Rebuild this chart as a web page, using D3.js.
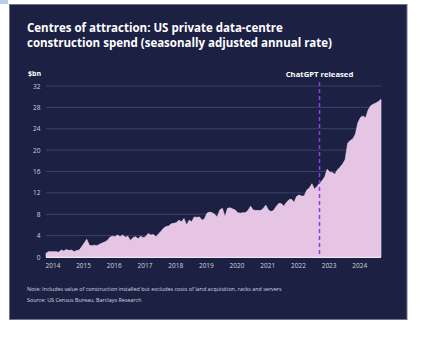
<!DOCTYPE html>
<html lang="en">
<head>
<meta charset="UTF-8">
<title>Centres of attraction</title>
<script src="https://cdn.jsdelivr.net/npm/d3@7"></script>
<style>
  body { margin: 0; background: #fff; }
  svg text { font-family: "Open Sans", Lato, sans-serif; }
</style>
</head>
<body>
<script>
    // monthly spend, $bn SAAR, Jan 2014 .. Dec 2024
    const spend = [
        0.7, 1.0, 1.0, 1.0, 1.0, 0.9, 1.3, 1.1, 1.4, 1.2, 1.3, 1.0,
        1.2, 1.3, 1.9, 2.6, 3.3, 2.2, 2.1, 2.2, 2.1, 2.4, 2.6, 2.8,
        3.1, 3.7, 3.9, 3.8, 4.1, 3.8, 4.1, 3.7, 3.9, 3.1, 3.6, 3.8,
        3.4, 3.9, 3.6, 3.8, 4.4, 4.1, 4.2, 3.8, 4.3, 4.8, 5.4, 5.7,
        5.8, 6.2, 6.3, 6.4, 6.9, 6.6, 7.2, 6.0, 6.9, 6.6, 7.5, 7.4,
        7.5, 6.9, 7.1, 8.2, 8.4, 8.3, 8.0, 7.5, 8.8, 9.1, 7.5, 9.1,
        9.2, 9.0, 8.8, 8.3, 8.2, 8.3, 8.3, 8.7, 9.5, 8.8, 8.7, 8.7,
        8.7, 9.1, 9.7, 8.8, 8.5, 8.7, 9.4, 10.0, 10.0, 9.5, 10.2, 10.7,
        10.8, 10.2, 11.3, 11.6, 11.4, 11.4, 12.5, 12.9, 13.7, 12.7, 13.2, 13.8,
        14.3, 15.0, 16.4, 15.9, 15.8, 15.5, 16.3, 16.8, 17.4, 18.2, 21.3, 21.8,
        22.1, 23.0, 25.1, 26.1, 26.4, 26.0, 27.5, 28.3, 28.6, 28.8, 29.1, 29.5
    ];
    const months = d3.timeMonth.range(new Date(2014, 0, 1), new Date(2025, 0, 1));
    const yTicks = [0, 4, 8, 12, 16, 20, 24, 28, 32];
    const yearTicks = [2014, 2015, 2016, 2017, 2018, 2019, 2020, 2021, 2022, 2023, 2024];
    const chatgptDate = new Date(2022, 10, 30);
    const titleLines = [
        "Centres of attraction: US private data-centre",
        "construction spend (seasonally adjusted annual rate)"
    ];
    const footnotes = [
        "Note: Includes value of construction installed but excludes costs of land acquisition, racks and servers",
        "Source: US Census Bureau, Barclays Research"
    ];

    const width = 444, height = 338;
    const navy = "#1c2144";

    const svg = d3.select("body").append("svg")
        .attr("width", width)
        .attr("height", height);

    svg.append("rect")
        .attr("x", 0).attr("y", 0).attr("width", 8).attr("height", 4)
        .attr("fill", "#bccdea");

    svg.append("rect")
        .attr("x", 9.5).attr("y", 4.5)
        .attr("width", 397.5).attr("height", 315)
        .attr("fill", navy)
        .attr("stroke", "#6f748e")
        .attr("stroke-width", 1);

    const x = d3.scaleTime()
        .domain(d3.extent(months))
        .range([46, 381]);
    const y = d3.scaleLinear()
        .domain([0, 32])
        .range([257, 86]);

    // title
    svg.append("g").selectAll("text")
        .data(titleLines)
        .enter().append("text")
        .attr("x", 27)
        .attr("y", (d, i) => 32 + i * 15)
        .attr("fill", "#ffffff")
        .style("font-size", "11.5px")
        .style("font-weight", "bold")
        .text(d => d);

    // gridlines
    svg.append("g").selectAll("line")
        .data(yTicks.filter(d => d > 0))
        .enter().append("line")
        .attr("x1", 46).attr("x2", 381)
        .attr("y1", d => y(d)).attr("y2", d => y(d))
        .attr("stroke", "#3b4067")
        .attr("stroke-width", 1);

    // y labels
    svg.append("g").selectAll("text")
        .data(yTicks)
        .enter().append("text")
        .attr("x", 40.5)
        .attr("y", d => y(d) + 2.5)
        .attr("text-anchor", "end")
        .attr("fill", "#cfd1dc")
        .style("font-size", "6.5px")
        .text(d => d);

    svg.append("text")
        .attr("x", 28).attr("y", 76)
        .attr("fill", "#ffffff")
        .style("font-size", "7px")
        .style("font-weight", "bold")
        .text("$bn");

    // area
    const area = d3.area()
        .x((d, i) => x(months[i]))
        .y0(y(0))
        .y1(d => y(d));

    svg.append("path")
        .datum(spend)
        .attr("d", area)
        .attr("fill", "#e6c4e4")
        .attr("stroke", "#efdcee")
        .attr("stroke-width", 0.6);

    svg.append("line")
        .attr("x1", 46).attr("x2", 381)
        .attr("y1", y(0) + 0.5).attr("y2", y(0) + 0.5)
        .attr("stroke", "#f4e8f3")
        .attr("stroke-width", 1);

    // x labels
    svg.append("g").selectAll("text")
        .data(yearTicks)
        .enter().append("text")
        .attr("x", d => x(new Date(d, 0, 1)) - 0.5)
        .attr("y", 267.5)
        .attr("fill", "#cfd1dc")
        .style("font-size", "6.5px")
        .text(d => d);

    // ChatGPT marker
    svg.append("line")
        .attr("x1", x(chatgptDate)).attr("x2", x(chatgptDate))
        .attr("y1", 82).attr("y2", y(0))
        .attr("stroke", "#8a3cf0")
        .attr("stroke-width", 1.5)
        .attr("stroke-dasharray", "4,3");

    svg.append("text")
        .attr("x", x(chatgptDate))
        .attr("y", 77)
        .attr("text-anchor", "middle")
        .attr("fill", "#ffffff")
        .style("font-size", "7.7px")
        .style("font-weight", "bold")
        .text("ChatGPT released");

    // footnotes
    svg.append("g").selectAll("text")
        .data(footnotes)
        .enter().append("text")
        .attr("x", 27)
        .attr("y", (d, i) => 291 + i * 10.5)
        .attr("fill", "#d4d6e0")
        .style("font-size", "5.4px")
        .text(d => d);
</script>
</body>
</html>
